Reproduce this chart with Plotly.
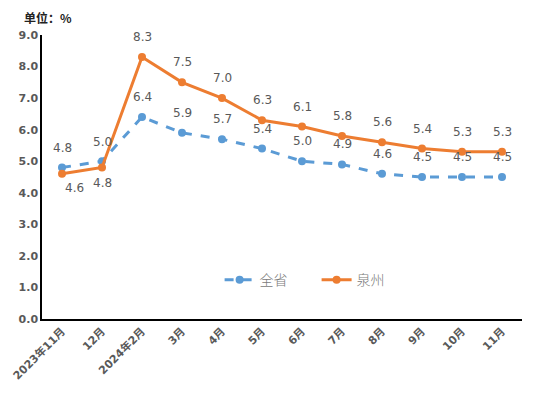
import plotly.graph_objects as go

categories = ["2023年11月", "12月", "2024年2月", "3月", "4月", "5月", "6月", "7月", "8月", "9月", "10月", "11月"]
province = [4.8, 5.0, 6.4, 5.9, 5.7, 5.4, 5.0, 4.9, 4.6, 4.5, 4.5, 4.5]
quanzhou = [4.6, 4.8, 8.3, 7.5, 7.0, 6.3, 6.1, 5.8, 5.6, 5.4, 5.3, 5.3]
province_label_shift = [20, 19, 20, 20, 20, 20, 20, 20, 20, 20, 20, 20]
quanzhou_label_shift = [-14, -15, 20, 20, 20, 20, 20, 20, 20, 20, 20, 20]
quanzhou_label_xshift = [12, 0, 0, 0, 0, 0, 0, 0, 0, 0, 0, 0]

BLUE = "#5B9BD5"
ORANGE = "#ED7D31"
LABEL_FONT = dict(family="DejaVu Sans, Noto Sans CJK SC", size=12, color="#595959")

fig = go.Figure()
fig.add_trace(go.Scatter(
    x=categories, y=province, name="全省", mode="lines+markers",
    line=dict(color=BLUE, width=3, dash="dash"),
    marker=dict(color=BLUE, size=8),
))
fig.add_trace(go.Scatter(
    x=categories, y=quanzhou, name="泉州", mode="lines+markers",
    line=dict(color=ORANGE, width=3),
    marker=dict(color=ORANGE, size=8),
))

annotations = []
for c, v, s in zip(categories, province, province_label_shift):
    annotations.append(dict(x=c, y=v, text=f"{v:.1f}", showarrow=False,
                            yshift=s, font=LABEL_FONT))
for c, v, s, xs in zip(categories, quanzhou, quanzhou_label_shift, quanzhou_label_xshift):
    annotations.append(dict(x=c, y=v, text=f"{v:.1f}", showarrow=False,
                            yshift=s, xshift=xs, font=LABEL_FONT))
annotations.append(dict(xref="paper", yref="paper", x=-0.042, y=1.063, xanchor="left",
                        yanchor="middle", text="<b>单位：%</b>", showarrow=False,
                        font=dict(family="Noto Sans CJK SC, DejaVu Sans", size=12, color="#222222")))

fig.update_layout(
    width=538, height=390,
    margin=dict(l=34, r=24, t=27, b=79),
    plot_bgcolor="white", paper_bgcolor="white",
    showlegend=True,
    legend=dict(orientation="h", x=0.370, xanchor="left", y=0.137, yanchor="middle",
                font=dict(family="Noto Sans CJK SC", size=14, color="#7a7a7a", weight=300),
                bgcolor="rgba(0,0,0,0)", itemwidth=30,
                entrywidth=52, entrywidthmode="pixels"),
    annotations=annotations,
    xaxis=dict(
        type="category", showline=True, linecolor="black", linewidth=1.5,
        showgrid=False, ticks="", tickangle=-45, automargin=False,
        tickfont=dict(family="DejaVu Sans, Noto Sans CJK SC", size=11, color="#595959", weight="bold"),
        range=[-0.5, 11.5],
    ),
    yaxis=dict(
        range=[0, 9], dtick=1, tickformat=".1f", showline=True, linecolor="black",
        linewidth=1.5, showgrid=False, zeroline=False, ticks="", automargin=False,
        tickfont=dict(family="DejaVu Sans", size=11, color="#595959", weight="bold"),
    ),
)

fig.write_html("out.html")
